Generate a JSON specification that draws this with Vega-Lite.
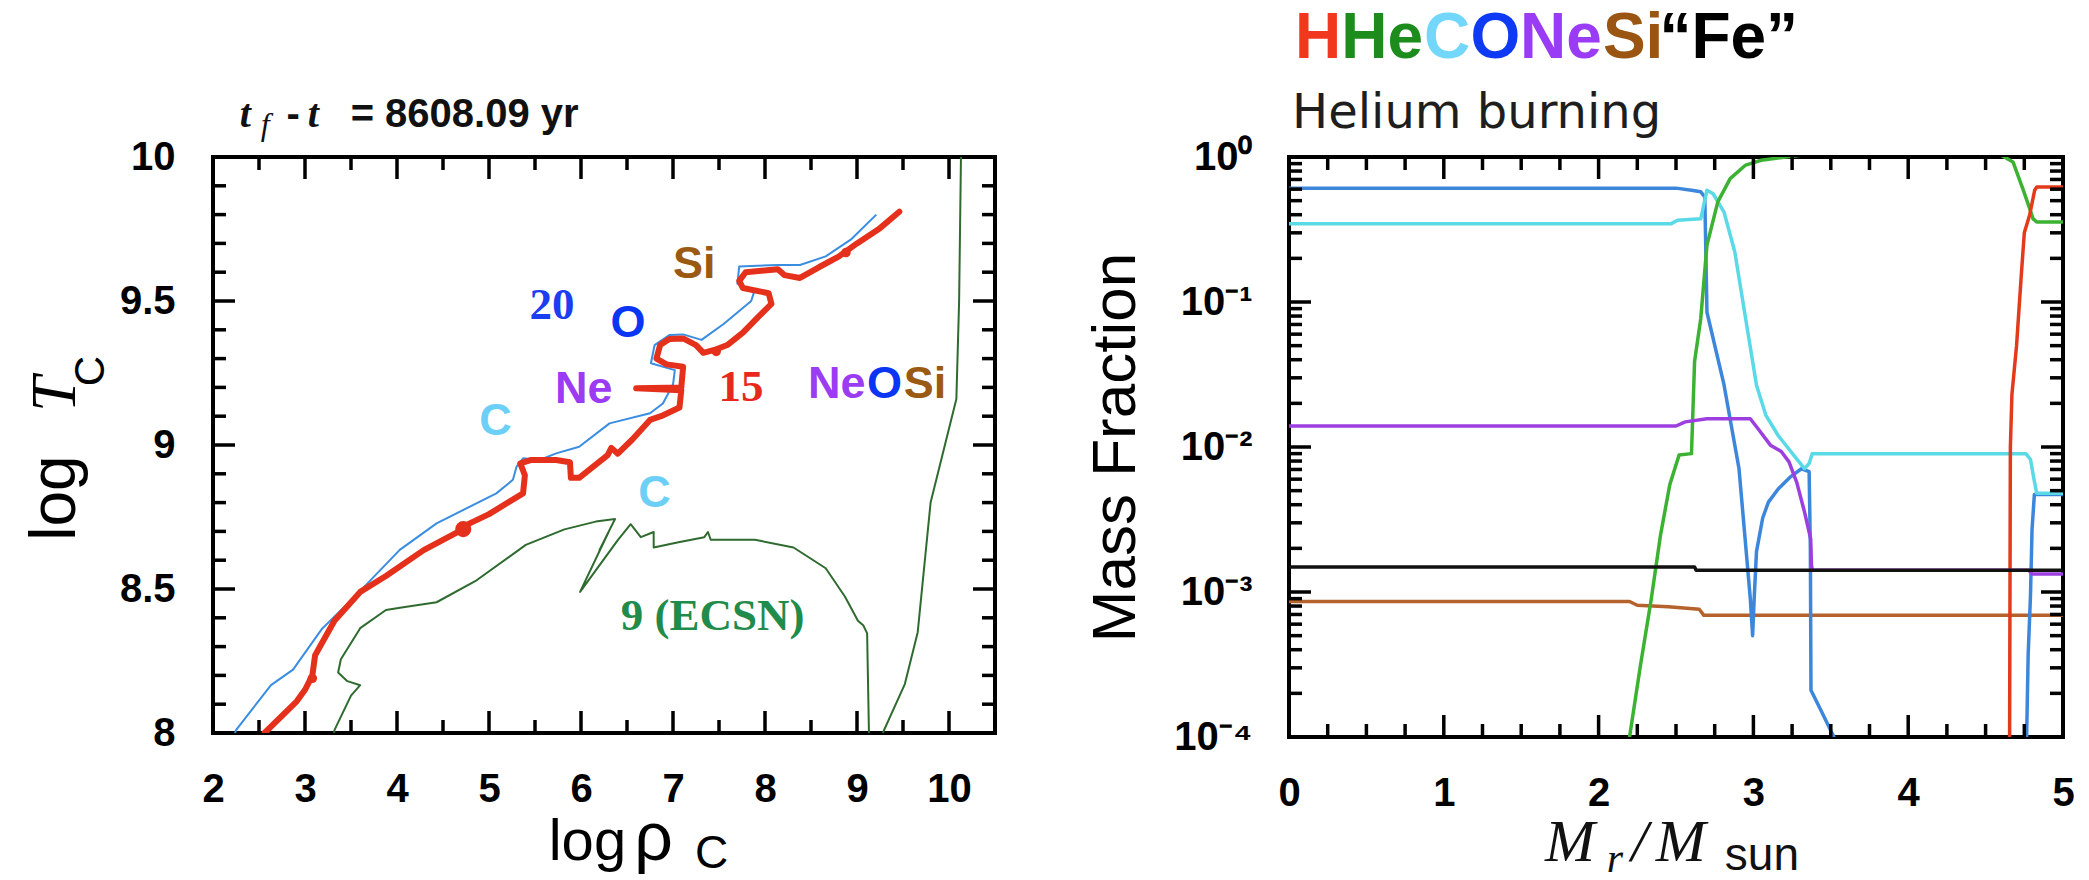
{
"$schema": "https://vega.github.io/schema/vega-lite/v6.json",
"background": "white",
"padding": {"left": 21, "top": 5, "right": 5, "bottom": 2},
"bounds": "flush",
"spacing": 294,
"resolve": {"scale": {"stroke": "independent", "color": "independent"}},
"config": {
  "view": {"stroke": "black", "strokeWidth": 4},
  "axis": {"domain": false, "ticks": false, "grid": false, "labelFont": "Liberation Sans", "labelFontSize": 40, "labelFontWeight": "bold", "labelColor": "black", "labelFlush": false, "labelOverlap": false},
  "tick": {"thickness": 3.5}
},
"hconcat": [
{
  "width": 782, "height": 576,
  "encoding": {
    "x": {"field": "rho", "type": "quantitative", "scale": {"domain": [2, 10.5], "nice": false, "zero": false}, "axis": {"orient": "bottom", "values": [2,3,4,5,6,7,8,9,10], "labelPadding": 36, "title": null}},
    "y": {"field": "T", "type": "quantitative", "scale": {"domain": [8, 10], "nice": false, "zero": false}, "axis": {"orient": "left", "values": [8,8.5,9,9.5,10], "labelPadding": 38, "format": "~g", "title": null}}
  },
  "layer": [
    {
      "data": {"values": [
        {"track":"20","rho":2.15,"T":7.9},{"track":"20","rho":2.25,"T":8.01},{"track":"20","rho":2.63,"T":8.166},{"track":"20","rho":2.87,"T":8.22},{"track":"20","rho":3.18,"T":8.36},{"track":"20","rho":3.53,"T":8.47},{"track":"20","rho":4.03,"T":8.636},{"track":"20","rho":4.43,"T":8.728},{"track":"20","rho":5.08,"T":8.832},{"track":"20","rho":5.26,"T":8.879},{"track":"20","rho":5.30,"T":8.925},{"track":"20","rho":5.37,"T":8.954},{"track":"20","rho":5.55,"T":8.948},{"track":"20","rho":5.73,"T":8.971},{"track":"20","rho":5.98,"T":8.994},{"track":"20","rho":6.31,"T":9.075},{"track":"20","rho":6.75,"T":9.11},{"track":"20","rho":6.89,"T":9.144},{"track":"20","rho":7.0,"T":9.21},{"track":"20","rho":7.02,"T":9.26},{"track":"20","rho":6.76,"T":9.284},{"track":"20","rho":6.80,"T":9.347},{"track":"20","rho":6.96,"T":9.382},{"track":"20","rho":7.11,"T":9.384},{"track":"20","rho":7.31,"T":9.365},{"track":"20","rho":7.55,"T":9.42},{"track":"20","rho":7.85,"T":9.5},{"track":"20","rho":7.88,"T":9.53},{"track":"20","rho":7.70,"T":9.56},{"track":"20","rho":7.72,"T":9.62},{"track":"20","rho":8.14,"T":9.625},{"track":"20","rho":8.38,"T":9.625},{"track":"20","rho":8.66,"T":9.655},{"track":"20","rho":8.94,"T":9.715},{"track":"20","rho":9.21,"T":9.8},
        {"track":"9","rho":3.28,"T":7.9},{"track":"9","rho":3.32,"T":8.01},{"track":"9","rho":3.5,"T":8.13},{"track":"9","rho":3.6,"T":8.166},{"track":"9","rho":3.46,"T":8.18},{"track":"9","rho":3.36,"T":8.21},{"track":"9","rho":3.39,"T":8.256},{"track":"9","rho":3.6,"T":8.364},{"track":"9","rho":3.88,"T":8.427},{"track":"9","rho":4.05,"T":8.436},{"track":"9","rho":4.43,"T":8.454},{"track":"9","rho":4.85,"T":8.527},{"track":"9","rho":5.4,"T":8.653},{"track":"9","rho":5.82,"T":8.707},{"track":"9","rho":6.16,"T":8.734},{"track":"9","rho":6.37,"T":8.743},{"track":"9","rho":6.20,"T":8.635},{"track":"9","rho":6.30,"T":8.698},{"track":"9","rho":5.99,"T":8.49},{"track":"9","rho":6.40,"T":8.67},{"track":"9","rho":6.54,"T":8.725},{"track":"9","rho":6.65,"T":8.68},{"track":"9","rho":6.79,"T":8.698},{"track":"9","rho":6.79,"T":8.644},{"track":"9","rho":7.06,"T":8.662},{"track":"9","rho":7.34,"T":8.68},{"track":"9","rho":7.38,"T":8.698},{"track":"9","rho":7.41,"T":8.671},{"track":"9","rho":7.89,"T":8.671},{"track":"9","rho":8.31,"T":8.644},{"track":"9","rho":8.66,"T":8.572},{"track":"9","rho":8.87,"T":8.473},{"track":"9","rho":9.01,"T":8.39},{"track":"9","rho":9.07,"T":8.373},{"track":"9","rho":9.11,"T":8.346},{"track":"9","rho":9.13,"T":8.0},{"track":"9","rho":9.13,"T":7.9},
        {"track":"9e","rho":9.25,"T":7.9},{"track":"9e","rho":9.28,"T":8.0},{"track":"9e","rho":9.52,"T":8.17},{"track":"9e","rho":9.66,"T":8.35},{"track":"9e","rho":9.80,"T":8.8},{"track":"9e","rho":10.08,"T":9.16},{"track":"9e","rho":10.11,"T":9.5},{"track":"9e","rho":10.13,"T":10.0},{"track":"9e","rho":10.14,"T":10.1}
      ]},
      "mark": {"type": "line", "clip": true, "strokeWidth": 2, "strokeJoin": "round"},
      "encoding": {
        "stroke": {"field": "track", "type": "nominal", "scale": {"domain": ["20","9","9e"], "range": ["#3a8de0","#2f6b2f","#2f6b2f"]}, "legend": null},
        "order": {"value": null}
      }
    },
    {
      "data": {"values": [{"rho":3,"T":8},{"rho":4,"T":8},{"rho":5,"T":8},{"rho":6,"T":8},{"rho":7,"T":8},{"rho":8,"T":8},{"rho":9,"T":8},{"rho":10,"T":8},{"rho":3,"T":10},{"rho":4,"T":10},{"rho":5,"T":10},{"rho":6,"T":10},{"rho":7,"T":10},{"rho":8,"T":10},{"rho":9,"T":10},{"rho":10,"T":10}]},
      "mark": {"type": "tick", "orient": "vertical", "size": 44, "color": "black", "clip": true, "opacity": 1}
    },
    {
      "data": {"values": [{"rho":2.5,"T":8},{"rho":3.5,"T":8},{"rho":4.5,"T":8},{"rho":5.5,"T":8},{"rho":6.5,"T":8},{"rho":7.5,"T":8},{"rho":8.5,"T":8},{"rho":9.5,"T":8},{"rho":2.5,"T":10},{"rho":3.5,"T":10},{"rho":4.5,"T":10},{"rho":5.5,"T":10},{"rho":6.5,"T":10},{"rho":7.5,"T":10},{"rho":8.5,"T":10},{"rho":9.5,"T":10}]},
      "mark": {"type": "tick", "orient": "vertical", "size": 26, "color": "black", "clip": true, "opacity": 1}
    },
    {
      "data": {"values": [{"T":8.5,"rho":2},{"T":9,"rho":2},{"T":9.5,"rho":2},{"T":8.5,"rho":10.5},{"T":9,"rho":10.5},{"T":9.5,"rho":10.5}]},
      "mark": {"type": "tick", "orient": "horizontal", "size": 44, "color": "black", "clip": true, "opacity": 1}
    },
    {
      "data": {"values": [{"T":8.1,"rho":2},{"T":8.2,"rho":2},{"T":8.3,"rho":2},{"T":8.4,"rho":2},{"T":8.6,"rho":2},{"T":8.7,"rho":2},{"T":8.8,"rho":2},{"T":8.9,"rho":2},{"T":9.1,"rho":2},{"T":9.2,"rho":2},{"T":9.3,"rho":2},{"T":9.4,"rho":2},{"T":9.6,"rho":2},{"T":9.7,"rho":2},{"T":9.8,"rho":2},{"T":9.9,"rho":2},{"T":8.1,"rho":10.5},{"T":8.2,"rho":10.5},{"T":8.3,"rho":10.5},{"T":8.4,"rho":10.5},{"T":8.6,"rho":10.5},{"T":8.7,"rho":10.5},{"T":8.8,"rho":10.5},{"T":8.9,"rho":10.5},{"T":9.1,"rho":10.5},{"T":9.2,"rho":10.5},{"T":9.3,"rho":10.5},{"T":9.4,"rho":10.5},{"T":9.6,"rho":10.5},{"T":9.7,"rho":10.5},{"T":9.8,"rho":10.5},{"T":9.9,"rho":10.5}]},
      "mark": {"type": "tick", "orient": "horizontal", "size": 26, "color": "black", "clip": true, "opacity": 1}
    },
    {
      "data": {"values": [
        {"rho":2.49,"T":7.88},{"rho":2.56,"T":8.0},{"rho":2.91,"T":8.11},{"rho":3.0,"T":8.15},{"rho":3.08,"T":8.2},{"rho":3.11,"T":8.27},{"rho":3.32,"T":8.39},{"rho":3.6,"T":8.49},{"rho":3.88,"T":8.545},{"rho":4.29,"T":8.635},{"rho":4.72,"T":8.708},{"rho":4.79,"T":8.728},{"rho":5.0,"T":8.76},{"rho":5.37,"T":8.832},{"rho":5.39,"T":8.895},{"rho":5.34,"T":8.936},{"rho":5.46,"T":8.948},{"rho":5.73,"T":8.948},{"rho":5.88,"T":8.94},{"rho":5.89,"T":8.886},{"rho":5.98,"T":8.886},{"rho":6.29,"T":8.965},{"rho":6.33,"T":8.99},{"rho":6.4,"T":8.97},{"rho":6.56,"T":9.02},{"rho":6.75,"T":9.087},{"rho":6.87,"T":9.1},{"rho":7.07,"T":9.13},{"rho":7.09,"T":9.19},{"rho":6.60,"T":9.197},{"rho":7.09,"T":9.2},{"rho":7.11,"T":9.272},{"rho":6.93,"T":9.28},{"rho":6.82,"T":9.3},{"rho":6.86,"T":9.347},{"rho":6.96,"T":9.368},{"rho":7.11,"T":9.37},{"rho":7.25,"T":9.347},{"rho":7.33,"T":9.32},{"rho":7.45,"T":9.33},{"rho":7.59,"T":9.347},{"rho":7.76,"T":9.39},{"rho":7.93,"T":9.446},{"rho":8.07,"T":9.49},{"rho":8.04,"T":9.527},{"rho":7.76,"T":9.545},{"rho":7.72,"T":9.57},{"rho":7.79,"T":9.6},{"rho":8.14,"T":9.61},{"rho":8.21,"T":9.59},{"rho":8.38,"T":9.58},{"rho":8.59,"T":9.618},{"rho":8.8,"T":9.654},{"rho":9.0,"T":9.7},{"rho":9.25,"T":9.753},{"rho":9.46,"T":9.81}
      ]},
      "mark": {"type": "line", "clip": true, "color": "#e5301c", "strokeWidth": 6, "strokeJoin": "round", "strokeCap": "round"},
      "encoding": {"order": {"value": null}}
    },
    {
      "data": {"values": [{"rho":4.72,"T":8.708}]},
      "mark": {"type": "point", "filled": true, "opacity": 1, "color": "#e5301c", "size": 260}
    },
    {
      "data": {"values": [{"rho":3.08,"T":8.19},{"rho":7.47,"T":9.325},{"rho":8.88,"T":9.668}]},
      "mark": {"type": "point", "filled": true, "opacity": 1, "color": "#e5301c", "size": 90}
    },
    {
      "data": {"values": [
        {"t":"Si","k":"Si","rho":7.23,"T":9.628},{"t":"O","k":"O","rho":6.51,"T":9.424},{"t":"Ne","k":"Ne","rho":6.03,"T":9.193},{"t":"C","k":"C","rho":5.07,"T":9.084},{"t":"C","k":"C","rho":6.80,"T":8.833},{"t":"Ne","k":"Ne","rho":8.78,"T":9.211},{"t":"O","k":"O","rho":9.30,"T":9.211},{"t":"Si","k":"Si","rho":9.74,"T":9.211}
      ]},
      "mark": {"type": "text", "font": "Liberation Sans", "fontWeight": "bold", "fontSize": 45, "align": "center", "baseline": "middle"},
      "encoding": {
        "text": {"field": "t"},
        "color": {"field": "k", "type": "nominal", "scale": {"domain": ["C","O","Ne","Si","20","15","9"], "range": ["#6ccff6","#0a35f5","#9b3cf3","#9a5a12","#1b3ef2","#e8281c","#1f8c4c"]}, "legend": null}
      }
    },
    {
      "data": {"values": [
        {"t":"20","k":"20","rho":5.685,"T":9.487},{"t":"15","k":"15","rho":7.74,"T":9.202},{"t":"9 (ECSN)","k":"9","rho":7.43,"T":8.406}
      ]},
      "mark": {"type": "text", "font": "Liberation Serif", "fontWeight": "bold", "fontSize": 45, "align": "center", "baseline": "middle"},
      "encoding": {
        "text": {"field": "t"},
        "color": {"field": "k", "type": "nominal", "scale": {"domain": ["C","O","Ne","Si","20","15","9"], "range": ["#6ccff6","#0a35f5","#9b3cf3","#9a5a12","#1b3ef2","#e8281c","#1f8c4c"]}, "legend": null}
      }
    },
    {
      "data": {"values": [{"t":"t","rho":2.35,"T":10.105},{"t":"t","rho":3.09,"T":10.105}]},
      "mark": {"type": "text", "font": "Liberation Serif", "fontWeight": "bold", "fontStyle": "italic", "fontSize": 40, "align": "center", "baseline": "alphabetic", "color": "#111111"},
      "encoding": {"text": {"field": "t"}}
    },
    {
      "data": {"values": [{"t":"f","rho":2.566,"T":10.075}]},
      "mark": {"type": "text", "font": "Liberation Serif", "fontStyle": "italic", "fontSize": 32, "align": "center", "baseline": "alphabetic", "color": "#111111"},
      "encoding": {"text": {"field": "t"}}
    },
    {
      "data": {"values": [{"t":"-","rho":2.80,"T":10.105},{"t":"= 8608.09 yr","rho":3.496,"T":10.105}]},
      "mark": {"type": "text", "font": "Liberation Sans", "fontWeight": "bold", "fontSize": 40, "align": "left", "baseline": "alphabetic", "color": "#111111"},
      "encoding": {"text": {"field": "t"}}
    },
    {
      "data": {"values": [{"t":"log","rho":0.50,"T":8.816}]},
      "mark": {"type": "text", "font": "Liberation Sans", "fontSize": 64, "angle": 270, "align": "center", "baseline": "alphabetic", "color": "black"},
      "encoding": {"text": {"field": "t"}}
    },
    {
      "data": {"values": [{"t":"T","rho":0.50,"T":9.176}]},
      "mark": {"type": "text", "font": "Liberation Serif", "fontStyle": "italic", "fontSize": 64, "angle": 270, "align": "center", "baseline": "alphabetic", "color": "black"},
      "encoding": {"text": {"field": "t"}}
    },
    {
      "data": {"values": [{"t":"C","rho":0.815,"T":9.257}]},
      "mark": {"type": "text", "font": "Liberation Sans", "fontSize": 42, "angle": 270, "align": "center", "baseline": "alphabetic", "color": "black"},
      "encoding": {"text": {"field": "t"}}
    },
    {
      "data": {"values": [{"t":"log","rho":6.07,"T":7.559}]},
      "mark": {"type": "text", "font": "Liberation Sans", "fontSize": 58, "align": "center", "baseline": "alphabetic", "color": "black"},
      "encoding": {"text": {"field": "t"}}
    },
    {
      "data": {"values": [{"t":"ρ","rho":6.79,"T":7.559}]},
      "mark": {"type": "text", "font": "Liberation Sans", "fontSize": 68, "align": "center", "baseline": "alphabetic", "color": "black"},
      "encoding": {"text": {"field": "t"}}
    },
    {
      "data": {"values": [{"t":"C","rho":7.42,"T":7.53}]},
      "mark": {"type": "text", "font": "Liberation Sans", "fontSize": 46, "align": "center", "baseline": "alphabetic", "color": "black"},
      "encoding": {"text": {"field": "t"}}
    }
  ]
},
{
  "width": 774, "height": 580,
  "encoding": {
    "x": {"field": "m", "type": "quantitative", "scale": {"domain": [0, 5], "nice": false, "zero": false}, "axis": {"orient": "bottom", "values": [0,1,2,3,4,5], "labelPadding": 36, "title": null}},
    "y": {"field": "X", "type": "quantitative", "scale": {"type": "log", "domain": [0.0001, 1], "nice": false}, "axis": {"orient": "left", "values": [0.0001,0.001,0.01,0.1,1], "labelPadding": 37, "labelExpr": "['10⁻⁴','10⁻³','10⁻²','10⁻¹','10⁰'][round(log(datum.value)/LN10)+4]", "title": "Mass Fraction", "titleFont": "Liberation Sans", "titleFontSize": 62, "titleFontWeight": "normal", "titleColor": "black", "titlePadding": 26}}
  },
  "layer": [
    {
      "data": {"values": [
        {"el":"Si","m":0,"X":0.00086},{"el":"Si","m":2.2,"X":0.00086},{"el":"Si","m":2.25,"X":0.00081},{"el":"Si","m":2.45,"X":0.00079},{"el":"Si","m":2.65,"X":0.00076},{"el":"Si","m":2.68,"X":0.00069},{"el":"Si","m":5,"X":0.00069},
        {"el":"O","m":0,"X":0.61},{"el":"O","m":2.5,"X":0.61},{"el":"O","m":2.6,"X":0.59},{"el":"O","m":2.66,"X":0.575},{"el":"O","m":2.686,"X":0.53},{"el":"O","m":2.7,"X":0.085},{"el":"O","m":2.81,"X":0.0269},{"el":"O","m":2.907,"X":0.0071},{"el":"O","m":2.98,"X":0.0009},{"el":"O","m":2.995,"X":0.0005},{"el":"O","m":3.005,"X":0.0009},{"el":"O","m":3.02,"X":0.0019},{"el":"O","m":3.06,"X":0.00324},{"el":"O","m":3.097,"X":0.00417},{"el":"O","m":3.16,"X":0.00513},{"el":"O","m":3.235,"X":0.00617},{"el":"O","m":3.31,"X":0.00708},{"el":"O","m":3.36,"X":0.00676},{"el":"O","m":3.368,"X":0.002},{"el":"O","m":3.372,"X":0.00021},{"el":"O","m":3.44,"X":0.00015},{"el":"O","m":3.53,"X":0.000095},{"el":"O","m":3.6,"X":0.00002},{"el":"O","m":4.7,"X":0.00002},{"el":"O","m":4.755,"X":0.00005},{"el":"O","m":4.765,"X":0.0001},{"el":"O","m":4.775,"X":0.00037},{"el":"O","m":4.79,"X":0.00095},{"el":"O","m":4.8,"X":0.0027},{"el":"O","m":4.815,"X":0.0047},{"el":"O","m":5,"X":0.0047},
        {"el":"C","m":0,"X":0.347},{"el":"C","m":2.47,"X":0.347},{"el":"C","m":2.51,"X":0.366},{"el":"C","m":2.66,"X":0.375},{"el":"C","m":2.7,"X":0.59},{"el":"C","m":2.74,"X":0.558},{"el":"C","m":2.81,"X":0.417},{"el":"C","m":2.88,"X":0.221},{"el":"C","m":2.95,"X":0.0767},{"el":"C","m":3.02,"X":0.0267},{"el":"C","m":3.08,"X":0.0166},{"el":"C","m":3.16,"X":0.012},{"el":"C","m":3.26,"X":0.0088},{"el":"C","m":3.33,"X":0.0071},{"el":"C","m":3.36,"X":0.0077},{"el":"C","m":3.38,"X":0.009},{"el":"C","m":4.76,"X":0.009},{"el":"C","m":4.79,"X":0.0082},{"el":"C","m":4.81,"X":0.0062},{"el":"C","m":4.83,"X":0.0048},{"el":"C","m":5,"X":0.0048},
        {"el":"He","m":2.17,"X":0.00002},{"el":"He","m":2.2,"X":0.0001},{"el":"He","m":2.27,"X":0.00031},{"el":"He","m":2.34,"X":0.00089},{"el":"He","m":2.4,"X":0.00247},{"el":"He","m":2.46,"X":0.0055},{"el":"He","m":2.52,"X":0.0088},{"el":"He","m":2.6,"X":0.009},{"el":"He","m":2.62,"X":0.0388},{"el":"He","m":2.66,"X":0.077},{"el":"He","m":2.7,"X":0.247},{"el":"He","m":2.77,"X":0.49},{"el":"He","m":2.85,"X":0.71},{"el":"He","m":2.95,"X":0.88},{"el":"He","m":3.05,"X":0.95},{"el":"He","m":3.31,"X":1.03},{"el":"He","m":4.6,"X":1.03},{"el":"He","m":4.677,"X":0.925},{"el":"He","m":4.74,"X":0.605},{"el":"He","m":4.785,"X":0.44},{"el":"He","m":4.806,"X":0.376},{"el":"He","m":4.83,"X":0.356},{"el":"He","m":5,"X":0.356},
        {"el":"H","m":4.63,"X":0.00001},{"el":"H","m":4.655,"X":0.0001},{"el":"H","m":4.66,"X":0.01},{"el":"H","m":4.67,"X":0.023},{"el":"H","m":4.7,"X":0.05},{"el":"H","m":4.73,"X":0.15},{"el":"H","m":4.75,"X":0.3},{"el":"H","m":4.785,"X":0.4},{"el":"H","m":4.817,"X":0.59},{"el":"H","m":4.83,"X":0.62},{"el":"H","m":5,"X":0.62},
        {"el":"Ne","m":0,"X":0.01396},{"el":"Ne","m":2.5,"X":0.01396},{"el":"Ne","m":2.56,"X":0.0149},{"el":"Ne","m":2.7,"X":0.01567},{"el":"Ne","m":2.98,"X":0.01567},{"el":"Ne","m":3.03,"X":0.01337},{"el":"Ne","m":3.11,"X":0.0103},{"el":"Ne","m":3.18,"X":0.0093},{"el":"Ne","m":3.23,"X":0.0079},{"el":"Ne","m":3.28,"X":0.0057},{"el":"Ne","m":3.33,"X":0.00357},{"el":"Ne","m":3.37,"X":0.00233},{"el":"Ne","m":3.375,"X":0.00154},{"el":"Ne","m":3.38,"X":0.00141},{"el":"Ne","m":4.78,"X":0.00141},{"el":"Ne","m":4.8,"X":0.00133},{"el":"Ne","m":5,"X":0.00133},
        {"el":"Fe","m":0,"X":0.001486},{"el":"Fe","m":2.62,"X":0.001486},{"el":"Fe","m":2.63,"X":0.00141},{"el":"Fe","m":5,"X":0.00141}
      ]},
      "mark": {"type": "line", "clip": true, "strokeWidth": 3.5, "strokeJoin": "round"},
      "encoding": {
        "stroke": {"field": "el", "type": "nominal", "scale": {"domain": ["Si","O","C","He","H","Ne","Fe"], "range": ["#b5622c","#3c86db","#5ad9e6","#3cb232","#e43a1c","#9d3fe0","#111111"]}, "legend": null},
        "order": {"value": null}
      }
    },
    {
      "data": {"values": [{"m":1,"X":0.0001},{"m":2,"X":0.0001},{"m":3,"X":0.0001},{"m":4,"X":0.0001},{"m":1,"X":1},{"m":2,"X":1},{"m":3,"X":1},{"m":4,"X":1}]},
      "mark": {"type": "tick", "orient": "vertical", "size": 44, "color": "black", "clip": true, "opacity": 1}
    },
    {
      "data": {"values": [{"m":0.25,"X":0.0001},{"m":0.5,"X":0.0001},{"m":0.75,"X":0.0001},{"m":1.25,"X":0.0001},{"m":1.5,"X":0.0001},{"m":1.75,"X":0.0001},{"m":2.25,"X":0.0001},{"m":2.5,"X":0.0001},{"m":2.75,"X":0.0001},{"m":3.25,"X":0.0001},{"m":3.5,"X":0.0001},{"m":3.75,"X":0.0001},{"m":4.25,"X":0.0001},{"m":4.5,"X":0.0001},{"m":4.75,"X":0.0001},{"m":0.25,"X":1},{"m":0.5,"X":1},{"m":0.75,"X":1},{"m":1.25,"X":1},{"m":1.5,"X":1},{"m":1.75,"X":1},{"m":2.25,"X":1},{"m":2.5,"X":1},{"m":2.75,"X":1},{"m":3.25,"X":1},{"m":3.5,"X":1},{"m":3.75,"X":1},{"m":4.25,"X":1},{"m":4.5,"X":1},{"m":4.75,"X":1}]},
      "mark": {"type": "tick", "orient": "vertical", "size": 26, "color": "black", "clip": true, "opacity": 1}
    },
    {
      "data": {"values": [{"X":0.001,"m":0},{"X":0.01,"m":0},{"X":0.1,"m":0},{"X":0.001,"m":5},{"X":0.01,"m":5},{"X":0.1,"m":5}]},
      "mark": {"type": "tick", "orient": "horizontal", "size": 44, "color": "black", "clip": true, "opacity": 1}
    },
    {
      "data": {"values": [{"X":0.0002,"m":0},{"X":0.0003,"m":0},{"X":0.0004,"m":0},{"X":0.0005,"m":0},{"X":0.0006,"m":0},{"X":0.0007,"m":0},{"X":0.0008,"m":0},{"X":0.0009,"m":0},{"X":0.002,"m":0},{"X":0.003,"m":0},{"X":0.004,"m":0},{"X":0.005,"m":0},{"X":0.006,"m":0},{"X":0.007,"m":0},{"X":0.008,"m":0},{"X":0.009,"m":0},{"X":0.02,"m":0},{"X":0.03,"m":0},{"X":0.04,"m":0},{"X":0.05,"m":0},{"X":0.06,"m":0},{"X":0.07,"m":0},{"X":0.08,"m":0},{"X":0.09,"m":0},{"X":0.2,"m":0},{"X":0.3,"m":0},{"X":0.4,"m":0},{"X":0.5,"m":0},{"X":0.6,"m":0},{"X":0.7,"m":0},{"X":0.8,"m":0},{"X":0.9,"m":0},{"X":0.0002,"m":5},{"X":0.0003,"m":5},{"X":0.0004,"m":5},{"X":0.0005,"m":5},{"X":0.0006,"m":5},{"X":0.0007,"m":5},{"X":0.0008,"m":5},{"X":0.0009,"m":5},{"X":0.002,"m":5},{"X":0.003,"m":5},{"X":0.004,"m":5},{"X":0.005,"m":5},{"X":0.006,"m":5},{"X":0.007,"m":5},{"X":0.008,"m":5},{"X":0.009,"m":5},{"X":0.02,"m":5},{"X":0.03,"m":5},{"X":0.04,"m":5},{"X":0.05,"m":5},{"X":0.06,"m":5},{"X":0.07,"m":5},{"X":0.08,"m":5},{"X":0.09,"m":5},{"X":0.2,"m":5},{"X":0.3,"m":5},{"X":0.4,"m":5},{"X":0.5,"m":5},{"X":0.6,"m":5},{"X":0.7,"m":5},{"X":0.8,"m":5},{"X":0.9,"m":5}]},
      "mark": {"type": "tick", "orient": "horizontal", "size": 26, "color": "black", "clip": true, "opacity": 1}
    },
    {
      "data": {"values": [
        {"t":"H","el":"H","m":0.038,"X":4.8},{"t":"He","el":"He","m":0.338,"X":4.8},{"t":"C","el":"C","m":0.872,"X":4.8},{"t":"O","el":"O","m":1.172,"X":4.8},{"t":"Ne","el":"Ne","m":1.492,"X":4.8},{"t":"Si","el":"Si","m":2.028,"X":4.8},{"t":"“Fe”","el":"Fe","m":2.393,"X":4.8}
      ]},
      "mark": {"type": "text", "font": "Liberation Sans", "fontWeight": "bold", "fontSize": 64, "align": "left", "baseline": "alphabetic"},
      "encoding": {
        "text": {"field": "t"},
        "color": {"field": "el", "type": "nominal", "scale": {"domain": ["H","He","C","O","Ne","Si","Fe"], "range": ["#f2371f","#1c8c1c","#72d7fa","#0f3af5","#9a3cf5","#9a5512","#000000"]}, "legend": null}
      }
    },
    {
      "data": {"values": [{"t":"Helium burning","m":0.02,"X":1.585}]},
      "mark": {"type": "text", "font": "DejaVu Sans", "fontSize": 48, "align": "left", "baseline": "alphabetic", "color": "#1e1e1e"},
      "encoding": {"text": {"field": "t"}}
    },
    {
      "data": {"values": [{"t":"M","m":1.815,"X":0.00001405},{"t":"/","m":2.264,"X":0.00001405},{"t":"M","m":2.53,"X":0.00001405}]},
      "mark": {"type": "text", "font": "Liberation Serif", "fontStyle": "italic", "fontSize": 60, "align": "center", "baseline": "alphabetic", "color": "#111111"},
      "encoding": {"text": {"field": "t"}}
    },
    {
      "data": {"values": [{"t":"r","m":2.106,"X":0.0000118}]},
      "mark": {"type": "text", "font": "Liberation Serif", "fontStyle": "italic", "fontSize": 42, "align": "center", "baseline": "alphabetic", "color": "#111111"},
      "encoding": {"text": {"field": "t"}}
    },
    {
      "data": {"values": [{"t":"sun","m":3.055,"X":0.0000121}]},
      "mark": {"type": "text", "font": "Liberation Sans", "fontSize": 46, "align": "center", "baseline": "alphabetic", "color": "#111111"},
      "encoding": {"text": {"field": "t"}}
    }
  ]
}
]
}
